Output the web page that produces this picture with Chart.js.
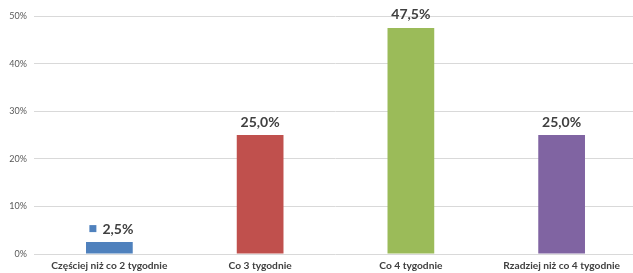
<!DOCTYPE html>
<html>
<head>
<meta charset="utf-8">
<script src="https://cdn.jsdelivr.net/npm/chart.js@4/dist/chart.umd.min.js"></script>
<style>
  html, body { margin: 0; padding: 0; background: #fff; overflow: hidden; }
  #wrap { width: 637px; height: 273px; }
</style>
</head>
<body>
<div id="wrap"><canvas id="chart" width="637" height="273"></canvas></div>
<script>
const categories = ['Częściej niż co 2 tygodnie', 'Co 3 tygodnie', 'Co 4 tygodnie', 'Rzadziej niż co 4 tygodnie'];
const values = [2.5, 25.0, 47.5, 25.0];
const barColors = ['#4F81BD', '#C0504D', '#9BBB59', '#8064A2'];
const yTicks = [0, 10, 20, 30, 40, 50];

// Data labels above bars, first one with a legend key square
const valueLabels = {
    id: 'valueLabels',
    afterDatasetsDraw(chart) {
        const ctx = chart.ctx;
        const meta = chart.getDatasetMeta(0);
        ctx.save();
        ctx.font = 'bold 14px Lato, "Open Sans", sans-serif';
        ctx.fillStyle = '#404040';
        ctx.textBaseline = 'middle';
        meta.data.forEach((bar, i) => {
            const txt = values[i].toFixed(1).replace('.', ',') + '%';
            const y = bar.y - 13;
            if (i === 0) {
                const w = ctx.measureText(txt).width;
                const total = 7 + 6 + w;
                const x0 = bar.x - total / 2 + 2;
                ctx.fillStyle = barColors[0];
                ctx.fillRect(x0, y - 4, 7, 7);
                ctx.fillStyle = '#404040';
                ctx.textAlign = 'left';
                ctx.fillText(txt, x0 + 13, y);
            } else {
                ctx.textAlign = 'center';
                ctx.fillText(txt, bar.x, y);
            }
        });
        ctx.restore();
    }
};

new Chart(document.getElementById('chart').getContext('2d'), {
    type: 'bar',
    data: {
        labels: categories,
        datasets: [{
            data: values,
            backgroundColor: barColors,
            borderWidth: 0,
            barPercentage: 0.31,
            categoryPercentage: 1.0,
        }]
    },
    options: {
        responsive: false,
        animation: false,
        layout: { padding: { top: 16, right: 0, left: 0, bottom: 0 } },
        plugins: { legend: { display: false }, tooltip: { enabled: false } },
        scales: {
            x: {
                grid: { display: false, drawTicks: false },
                border: { display: false },
                ticks: {
                    color: '#404040',
                    font: { family: 'Lato, "Open Sans", sans-serif', size: 10.2, weight: 'bold' },
                    maxRotation: 0,
                    padding: 6,
                },
                afterFit(scale) { scale.height = 19; }
            },
            y: {
                min: 0,
                max: 50,
                afterBuildTicks(scale) { scale.ticks = yTicks.map(v => ({ value: v })); },
                grid: { color: '#D9D9D9', lineWidth: 1, drawTicks: false },
                border: { display: false },
                ticks: {
                    color: '#595959',
                    font: { family: 'Lato, "Open Sans", sans-serif', size: 9 },
                    padding: 7,
                    callback: v => v + '%'
                },
                afterFit(scale) { scale.width = 34; }
            }
        }
    },
    plugins: [valueLabels]
});
</script>
</body>
</html>
